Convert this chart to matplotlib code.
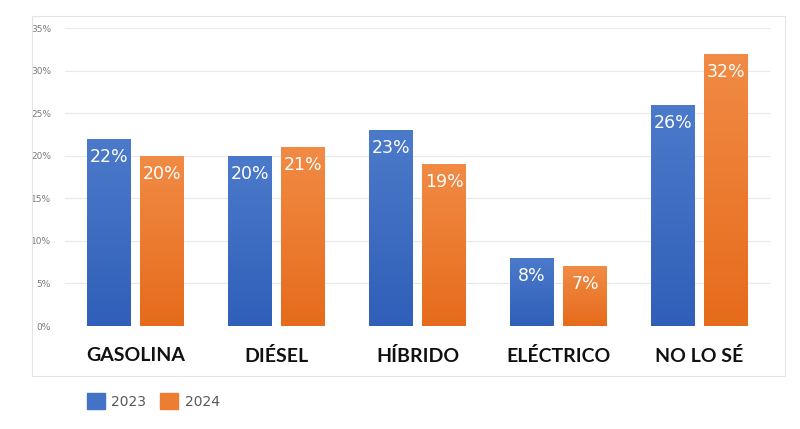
import numpy as np
import matplotlib
matplotlib.use("Agg")
import matplotlib.pyplot as plt
from matplotlib.colors import LinearSegmentedColormap
from matplotlib.patches import Rectangle, Patch

categories = ["GASOLINA", "DIÉSEL", "HÍBRIDO", "ELÉCTRICO", "NO LO SÉ"]
years = ["2023", "2024"]
v2023 = [22, 20, 23, 8, 26]
v2024 = [20, 21, 19, 7, 32]
yticks = [0, 5, 10, 15, 20, 25, 30, 35]

blue_top, blue_bot = "#4c7acb", "#2f5fb8"
orange_top, orange_bot = "#f18b45", "#e66b1b"

fig = plt.figure(figsize=(8, 4.29), dpi=100)
ax = fig.add_axes([65/800, 1-326/429, 705/800, 298/429])

# light frame round the whole chart
fig.patches.append(Rectangle((32/800, 1-376/429), 753/800, 360/429,
                             transform=fig.transFigure, fill=False,
                             edgecolor="#e4e4e4", lw=0.8))

x = np.arange(len(categories))
w = 0.31
off = 0.19

def grad_bars(xs, vals, top, bot):
    bars = ax.bar(xs, vals, w, color="none", edgecolor="none", zorder=3)
    cmap = LinearSegmentedColormap.from_list("g", [bot, top])
    grad = np.linspace(0, 1, 256).reshape(-1, 1)
    for b, v in zip(bars, vals):
        x0 = b.get_x()
        im = ax.imshow(grad, cmap=cmap, origin="lower", aspect="auto",
                       extent=(x0, x0 + b.get_width(), 0, v), zorder=3)
        im.set_clip_path(b)
        ax.annotate(f"{v}%", (b.get_x() + b.get_width()/2, v),
                    xytext=(0, -13), textcoords="offset points",
                    ha="center", va="center", color="white",
                    fontsize=12.5, zorder=5)
    return bars

grad_bars(x - off, v2023, blue_top, blue_bot)
grad_bars(x + off, v2024, orange_top, orange_bot)

ax.set_xlim(-0.5, 4.5)
ax.set_ylim(0, 35)
ax.set_yticks(yticks)
ax.set_yticklabels([f"{t}%" for t in yticks], fontsize=6.5, color="#7a7a7a")
ax.yaxis.grid(True, color="#e8e8e8", lw=0.8)
ax.set_axisbelow(True)
ax.tick_params(axis="y", length=0, pad=10)
ax.set_xticks(x)
ax.set_xticklabels(categories, fontsize=14, family="Lato", fontweight="bold",
                   color="#111111")
ax.tick_params(axis="x", length=0, pad=15)
for s in ax.spines.values():
    s.set_visible(False)

handles = [Patch(color="#4472c4"), Patch(color="#ed7d31")]
fig.legend(handles, years, loc="center left", ncol=2,
           bbox_to_anchor=(74/800, 1-401/429), frameon=False,
           fontsize=10, handlelength=1.3, handleheight=1.3,
           columnspacing=1.0, handletextpad=0.5, labelcolor="#595959")

fig.savefig("out.png", dpi=100, facecolor="white")
